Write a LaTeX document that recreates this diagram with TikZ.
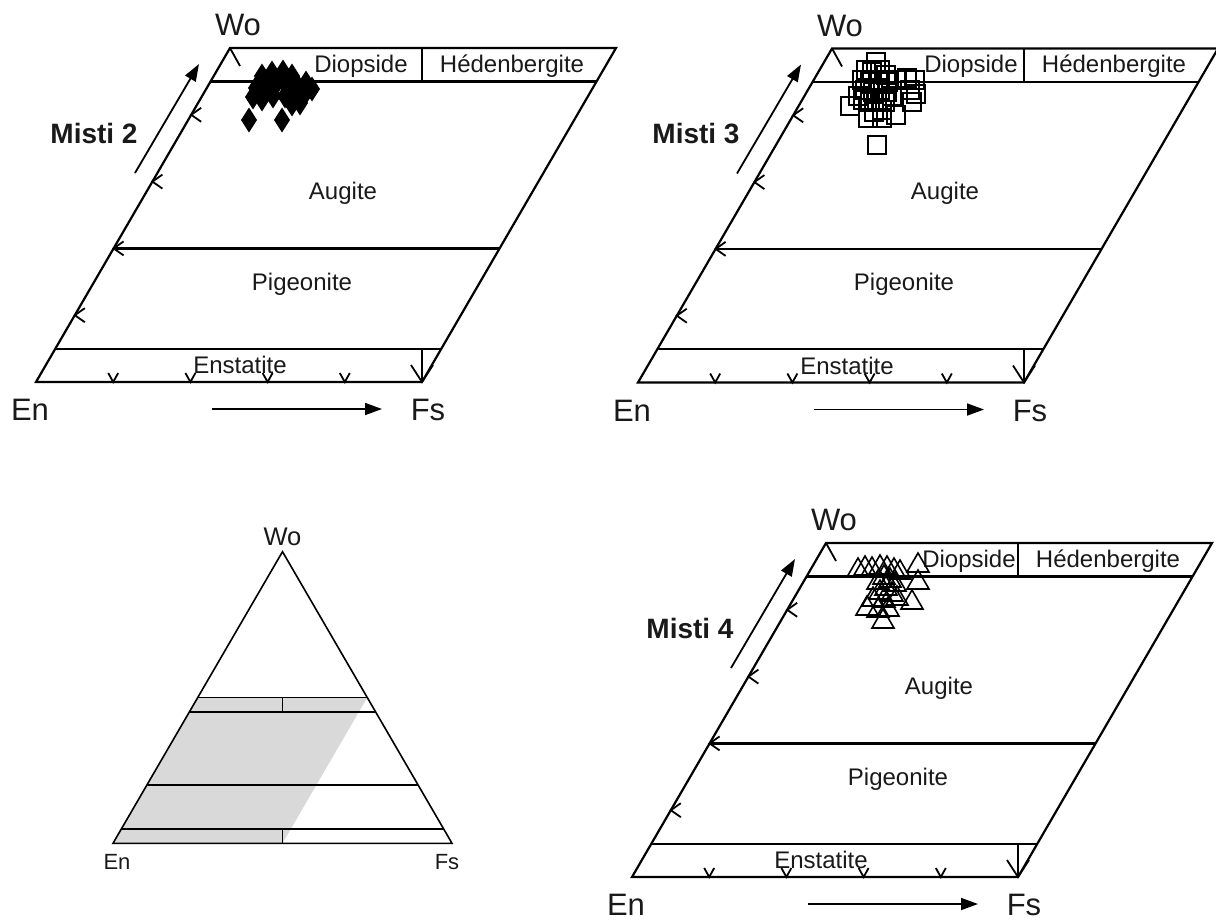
\documentclass[tikz,border=0pt]{standalone}
\usepackage{fontspec}
\setmainfont{Liberation Sans}
\usetikzlibrary{arrows.meta,calc}

\begin{document}
\begin{tikzpicture} [
    x=1pt, y=-1pt,
    frame/.style    = { draw, line width=2.2pt, line join=miter },
    tri/.style      = { draw, line width=1.6pt },
    tickmark/.style = { draw, line width=1.8pt },
    arr/.style      = { draw, line width=1.8pt, -{Triangle[length=17pt,width=12pt]} },
    lbl/.style      = { inner sep=0pt, text=black!90, font=\fontsize{24}{28}\selectfont },
    apex/.style     = { inner sep=0pt, text=black!90, font=\fontsize{31}{36}\selectfont },
    sample/.style   = { inner sep=0pt, text=black!90, font=\fontsize{28}{32}\selectfont\bfseries },
    sq/.style       = { draw, line width=1.6pt },
    tr/.style       = { draw, line width=1.6pt, line join=miter },
  ]
  \useasboundingbox (0,0) rectangle (1216,921);

  % the three quadrilaterals
  \foreach \i/\ox/\oy/\nm/\dx/\ex in {2/36/382/Misti 2/325/204,
                                      3/638/382.5/Misti 3/333/209,
                                      4/632/877/Misti 4/337/189} {
    \begin{scope}[shift={(\ox,\oy)}]
      \draw[frame] (0,0) -- (386,0) -- (580,-334) -- (194,-334) -- cycle;
      \draw[frame] (174.6,-300.6) -- (560.6,-300.6);
      \draw[frame] (77.6,-133.6) -- (463.6,-133.6);
      \draw[frame] (19.4,-33.4) -- (405.4,-33.4);
      \draw[frame] (386,-334) -- (386,-300.6);
      \draw[frame] (386,-33.4) -- (386,0);
      % tick marks
      \draw[tickmark] (375,-17) -- (386,0) -- (397,-17);
      \draw[tickmark] (194,-334) -- (204,-316);
      \foreach \k in {1,...,4} {
        \draw[tickmark] ({38.8*\k+10},{-66.8*\k-7}) -- ({38.8*\k},{-66.8*\k}) -- ({38.8*\k+10},{-66.8*\k+7});
        \draw[tickmark] ({77.2*\k-5},-9) -- ({77.2*\k},0) -- ({77.2*\k+5},-9);
      }
      % labels
      \node[apex] (wo\i) at (202,-357) {Wo};
      \node[apex] (en\i) at (-6,28) {En};
      \node[apex] (fs\i) at (392,28) {Fs};
      \node[sample] (name\i) at (58,-249) {\nm};
      \node[lbl] (di\i) at (\dx,-316) {Diopside};
      \node[lbl] (hd\i) at (476,-316) {Hédenbergite};
      \node[lbl] (aug\i) at (307,-189) {Augite};
      \node[lbl] (pig\i) at (266,-98) {Pigeonite};
      \node[lbl] (ens\i) at (\ex,-17) {Enstatite};
      % arrows
      \coordinate (a\i) at (176,27);
      \coordinate (b\i) at (346,27);
      \draw[arr] (a\i) -- (b\i);
      \coordinate (c\i) at (99,-209);
      \coordinate (d\i) at (163,-318);
      \draw[arr] (c\i) -- (d\i);
    \end{scope}
  }

  % Misti 2 data
  \foreach \p in {(262,76),(272,73),(283,72),(292,76),(256,88),(266,86),(276,84),
                  (287,86),(297,85),(306,83),(312,89),(304,95),(295,98),(285,96),
                  (273,96),(262,99),(253,97),(292,104),(300,103),(249,120),(282,120)}
    \fill \p +(0,-12.5) -- +(8,0) -- +(0,12.5) -- +(-8,0) -- cycle;

  % Misti 3 data
  \foreach \p in {(876,62),(866,70),(872,72),(880,70),(886,75),(862,80),(870,82),(878,80),
                  (888,82),(865,90),(873,92),(880,90),(887,92),(863,100),(870,102),(877,100),
                  (885,102),(892,96),(874,112),(882,110),(858,96),(850,106),(896,80),(907,78),
                  (915,80),(910,90),(916,94),(912,102),(868,118),(882,118),(896,115),(877,145)}
    \draw[sq] \p +(-9,-9) rectangle +(9,9);

  % Misti 4 data
  \foreach \p in {(858,569),(865,567),(872,568),(880,566),(887,567),(894,569),(900,571),
                  (918,564),(918,581),(884,576),(890,579),(878,581),(895,583),(886,587),
                  (880,591),(892,593),(873,598),(884,599),(897,597),(867,607),(878,609),
                  (888,608),(912,601),(883,620)}
    \draw[tr] \p +(0,-11) -- +(11,8) -- +(-11,8) -- cycle;

  % ternary sketch
  \coordinate (tWo) at (282.5,551.7);
  \coordinate (tEn) at (113,843.3);
  \coordinate (tFs) at (452,843.3);
  \fill[black!15] (tEn) -- ($(tEn)!0.5!(tWo)$) -- ($(tFs)!0.5!(tWo)$) -- ($(tEn)!0.5!(tFs)$) -- cycle;
  \foreach \w in {0.5,0.45,0.2,0.05}
    \draw[tri] ($(tEn)!\w!(tWo)$) -- ($(tFs)!\w!(tWo)$);
  \draw[tri] (282.5,697.5) -- (282.5,712.4);
  \draw[tri] (282.5,828.7) -- (282.5,843.3);
  \draw[tri] (tEn) -- (tFs) -- (tWo) -- cycle;
  \node[inner sep=0pt, text=black!90, font=\fontsize{25.5}{30}\selectfont] (twolbl) at (282.5,537) {Wo};
  \node[inner sep=0pt, text=black!90, font=\fontsize{22}{26}\selectfont] (tenlbl) at (117,862) {En};
  \node[inner sep=0pt, text=black!90, font=\fontsize{22}{26}\selectfont] (tfslbl) at (447,862) {Fs};
\end{tikzpicture}
\end{document}
